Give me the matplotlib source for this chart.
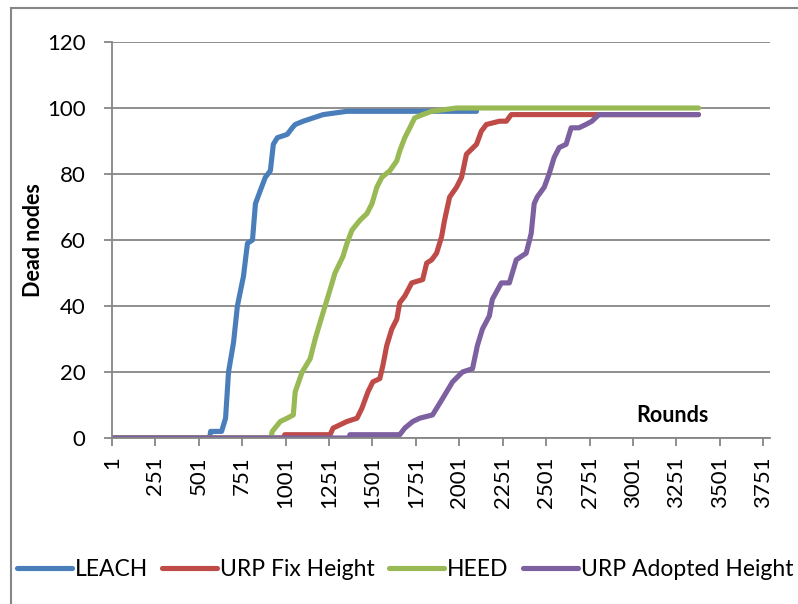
import matplotlib
matplotlib.use("Agg")
import matplotlib.pyplot as plt
from matplotlib.lines import Line2D

plt.rcParams['font.family'] = ['Lato', 'DejaVu Sans']

# dead nodes per round for each protocol (step points)
leach_rounds = [1, 563, 569, 632, 655, 672, 701, 723, 758, 781, 810, 827, 855, 884,
                913, 930, 953, 1010, 1039, 1056, 1102, 1217, 1354, 2100]
leach_dead = [0, 0, 2, 2, 6, 20, 29, 40, 49, 59, 60, 71, 75, 79,
              81, 89, 91, 92, 94, 95, 96, 98, 99, 99]

fix_rounds = [1, 990, 996, 1257, 1274, 1354, 1412, 1440, 1475, 1503, 1543, 1561, 1583,
              1612, 1641, 1658, 1687, 1727, 1790, 1813, 1842, 1870, 1899, 1916, 1945,
              1985, 2014, 2042, 2100, 2128, 2157, 2232, 2272, 2300, 3378]
fix_dead = [0, 0, 1, 1, 3, 5, 6, 9, 14, 17, 18, 22, 28,
            33, 36, 41, 43, 47, 48, 53, 54, 56, 61, 66, 73,
            76, 79, 86, 89, 93, 95, 96, 96, 98, 98]

heed_rounds = [1, 915, 924, 970, 1010, 1045, 1056, 1096, 1142, 1171, 1199, 1228, 1257,
               1285, 1331, 1354, 1383, 1429, 1469, 1498, 1526, 1555, 1601, 1641, 1658,
               1687, 1716, 1744, 1790, 1842, 1985, 3378]
heed_dead = [0, 0, 2, 5, 6, 7, 14, 20, 24, 30, 35, 40, 45,
             50, 55, 59, 63, 66, 68, 71, 76, 79, 81, 84, 87,
             91, 94, 97, 98, 99, 100, 100]

adopt_rounds = [1, 1365, 1371, 1658, 1687, 1733, 1773, 1847, 1905, 1962, 2019, 2077,
                2105, 2134, 2174, 2191, 2243, 2289, 2329, 2386, 2415, 2432, 2449, 2490,
                2518, 2547, 2576, 2616, 2645, 2690, 2730, 2765, 2805, 3378]
adopt_dead = [0, 0, 1, 1, 3, 5, 6, 7, 12, 17, 20, 21,
              28, 33, 37, 42, 47, 47, 54, 56, 62, 71, 73, 76,
              80, 85, 88, 89, 94, 94, 95, 96, 98, 98]

series = [
    ("LEACH", leach_rounds, leach_dead, "#4A7EBB"),
    ("URP Fix Height", fix_rounds, fix_dead, "#BE4B48"),
    ("HEED", heed_rounds, heed_dead, "#98B954"),
    ("URP Adopted Height", adopt_rounds, adopt_dead, "#7D60A0"),
]

xticks = list(range(1, 3752, 250))
yticks = [0, 20, 40, 60, 80, 100, 120]

gray = "#868686"
fs = 15.5

fig = plt.figure(figsize=(7.98, 6.04), dpi=100)
ax = fig.add_axes([112 / 798, 1 - 438 / 604, (770 - 112) / 798, (438 - 42) / 604])

handles = []
for name, x, y, c in series:
    h, = ax.plot(x, y, color=c, lw=3.7, solid_capstyle="round",
                 solid_joinstyle="round", label=name)
    handles.append(h)

ax.set_xlim(1, 3790)
ax.set_ylim(0, 120)
ax.set_xticks(xticks)
ax.set_xticklabels([str(t) for t in xticks], rotation=90, fontsize=fs + 0.5)
ax.set_yticks(yticks)
ax.set_yticklabels([str(t) for t in yticks], fontsize=fs + 0.5)
ax.tick_params(axis="x", length=6, width=1.3, color=gray, pad=7)
ax.tick_params(axis="y", length=6, width=1.3, color=gray, pad=13)

ax.grid(axis="y", color=gray, lw=1.3)
ax.set_axisbelow(True)
for side in ["top", "right"]:
    ax.spines[side].set_visible(False)
for side in ["left", "bottom"]:
    ax.spines[side].set_color(gray)
    ax.spines[side].set_linewidth(1.3)

fig.text(33 / 798, 1 - 240 / 604, "Dead nodes", rotation=90, fontsize=fs,
         fontweight="bold", ha="center", va="center")
fig.text(672 / 798, 1 - 416 / 604, "Rounds", fontsize=fs,
         fontweight="bold", ha="center", va="center")

fig.legend(handles=handles, loc="center", bbox_to_anchor=(405 / 798, 1 - 570 / 604),
           ncol=4, frameon=False, fontsize=16.5, handlelength=2.4,
           handletextpad=0.15, columnspacing=0.6)

# chart frame (left and top edges)
fig.add_artist(Line2D([11 / 798, 11 / 798], [0, 1 - 8 / 604],
                      transform=fig.transFigure, color=gray, lw=1.5))
fig.add_artist(Line2D([11 / 798, 1], [1 - 8 / 604, 1 - 8 / 604],
                      transform=fig.transFigure, color=gray, lw=1.5))

fig.savefig("out.png", dpi=100)
